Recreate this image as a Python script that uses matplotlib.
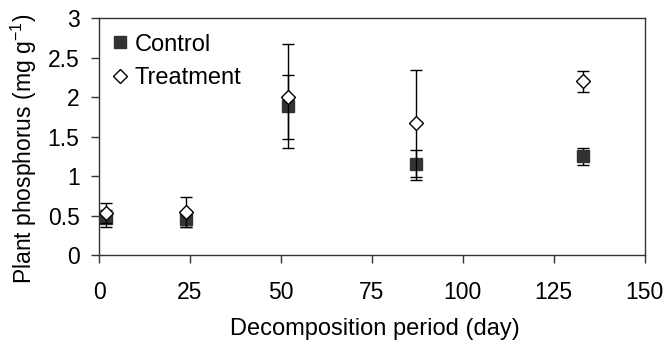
import matplotlib
matplotlib.use("Agg")
import matplotlib.pyplot as plt
from matplotlib.lines import Line2D

plt.rcParams['font.family'] = ['Liberation Sans', 'DejaVu Sans']

days = [2, 24, 52, 87, 133]
control = [0.47, 0.46, 1.89, 1.15, 1.25]
control_lo = [0.36, 0.36, 1.47, 0.95, 1.14]
control_hi = [0.57, 0.56, 2.28, 1.335, 1.35]
treatment = [0.53, 0.54, 2.00, 1.67, 2.20]
treatment_lo = [0.40, 0.35, 1.35, 0.99, 2.07]
treatment_hi = [0.66, 0.73, 2.68, 2.34, 2.33]

fig = plt.figure(figsize=(6.66, 3.44), dpi=100)
ax = fig.add_axes([99/666, 1-255/344, (644.7-99)/666, (255-18.3)/344])

cerr = [[c - l for c, l in zip(control, control_lo)], [h - c for c, h in zip(control, control_hi)]]
terr = [[t - l for t, l in zip(treatment, treatment_lo)], [h - t for t, h in zip(treatment, treatment_hi)]]

ax.errorbar(days, control, yerr=cerr, fmt='s', color='#333333', ecolor='black',
            elinewidth=1, capsize=4, capthick=1, markersize=8, zorder=3)
ax.errorbar(days, treatment, yerr=terr, fmt='D', markerfacecolor='white', markeredgecolor='black',
            ecolor='black', elinewidth=1, capsize=4, capthick=1, markersize=6.8,
            markeredgewidth=1, zorder=4)

ax.set_xlim(0, 150)
ax.set_ylim(0, 3)
ax.set_xticks([0, 25, 50, 75, 100, 125, 150])
ax.set_yticks([0, 0.5, 1, 1.5, 2, 2.5, 3])
ax.set_yticklabels(['0', '0.5', '1', '1.5', '2', '2.5', '3'])
ax.tick_params(direction='out', length=6, width=1, labelsize=16.5, color='#333333')
ax.tick_params(axis='x', pad=13)
ax.tick_params(axis='y', pad=8)
for s in ax.spines.values():
    s.set_color('#333333')
    s.set_linewidth(1)

ax.set_xlabel('Decomposition period (day)', fontsize=17)
ax.xaxis.set_label_coords(0.506, -0.265)
ax.set_ylabel('Plant phosphorus (mg g$^{\\mathregular{-1}}$)', fontsize=16.5)
ax.yaxis.set_label_coords(-0.11, 0.45)

handles = [
    Line2D([], [], linestyle='none', marker='s', color='#333333', markersize=8),
    Line2D([], [], linestyle='none', marker='D', markerfacecolor='white',
           markeredgecolor='black', markersize=6.8, markeredgewidth=1),
]
leg = ax.legend(handles, ['Control', 'Treatment'], loc='upper left', frameon=False,
                bbox_to_anchor=(0.0, 0.975),
                fontsize=17, handletextpad=0.1, handlelength=1.0,
                borderaxespad=0.1, labelspacing=0.5, borderpad=0.3)

fig.savefig('out.png', dpi=100)
